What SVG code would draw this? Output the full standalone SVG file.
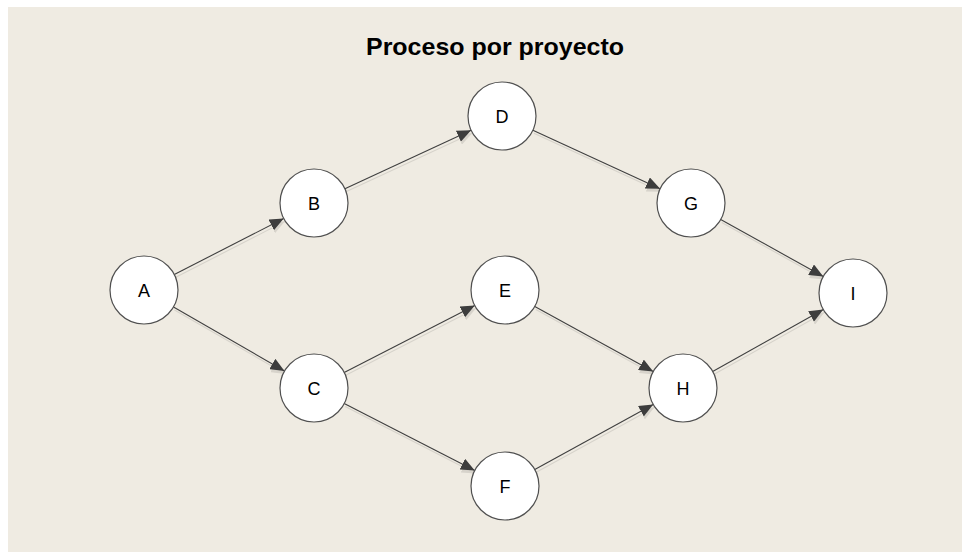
<svg xmlns="http://www.w3.org/2000/svg" width="962" height="552" viewBox="0 0 962 552">
<style>
.node circle{fill:#fff;stroke:#505050;stroke-width:1.2}
.node text{font-family:"Liberation Sans",Arial,sans-serif;font-size:18px;fill:#000;text-anchor:middle}
.edge{stroke:#404040;stroke-width:1.1;fill:none;marker-end:url(#arr)}
.title{font-family:"Liberation Sans",Arial,sans-serif;font-size:24px;font-weight:bold;fill:#000;text-anchor:middle}
</style>
<defs>
<marker id="arr" markerUnits="userSpaceOnUse" markerWidth="14" markerHeight="12" refX="14" refY="6" orient="auto">
<path d="M0,0 L14,6 L0,12 Z" fill="#3c3c3c"/>
</marker>
<filter id="sh" x="-10%" y="-10%" width="120%" height="130%">
<feDropShadow dx="1" dy="3" stdDeviation="0.6" flood-color="#000" flood-opacity="0.1"/>
</filter>
</defs>
<rect x="0" y="0" width="962" height="552" fill="#ffffff"/>
<rect x="8" y="7" width="954" height="545" fill="#efebe2"/>
<text class="title" x="495" y="55" textLength="258" lengthAdjust="spacingAndGlyphs">Proceso por proyecto</text>
<g id="connectors" filter="url(#sh)">
<line class="edge" x1="174.3" y1="274.5" x2="283.7" y2="218.5"/>
<line class="edge" x1="173.5" y1="307" x2="284.5" y2="371"/>
<line class="edge" x1="344.9" y1="188.7" x2="471.1" y2="130.3"/>
<line class="edge" x1="344.2" y1="372.5" x2="474.8" y2="305.5"/>
<line class="edge" x1="344.2" y1="403.5" x2="474.8" y2="470.5"/>
<line class="edge" x1="532.9" y1="130.2" x2="660.1" y2="188.8"/>
<line class="edge" x1="534.8" y1="306.4" x2="653.2" y2="371.6"/>
<line class="edge" x1="534.8" y1="469.6" x2="653.2" y2="404.4"/>
<line class="edge" x1="720.7" y1="219.5" x2="823.3" y2="276.5"/>
<line class="edge" x1="712.7" y1="371.4" x2="823.3" y2="309.6"/>
</g>
<g id="node-A" class="node"><circle cx="144" cy="290" r="34"/><text x="144" y="296.5">A</text></g>
<g id="node-B" class="node"><circle cx="314" cy="203" r="34"/><text x="314" y="209.5">B</text></g>
<g id="node-C" class="node"><circle cx="314" cy="388" r="34"/><text x="314" y="394.5">C</text></g>
<g id="node-D" class="node"><circle cx="502" cy="116" r="34"/><text x="502" y="122.5">D</text></g>
<g id="node-E" class="node"><circle cx="505" cy="290" r="34"/><text x="505" y="296.5">E</text></g>
<g id="node-F" class="node"><circle cx="505" cy="486" r="34"/><text x="505" y="492.5">F</text></g>
<g id="node-G" class="node"><circle cx="691" cy="203" r="34"/><text x="691" y="209.5">G</text></g>
<g id="node-H" class="node"><circle cx="683" cy="388" r="34"/><text x="683" y="394.5">H</text></g>
<g id="node-I" class="node"><circle cx="853" cy="293" r="34"/><text x="853" y="299.5">I</text></g>
</svg>
